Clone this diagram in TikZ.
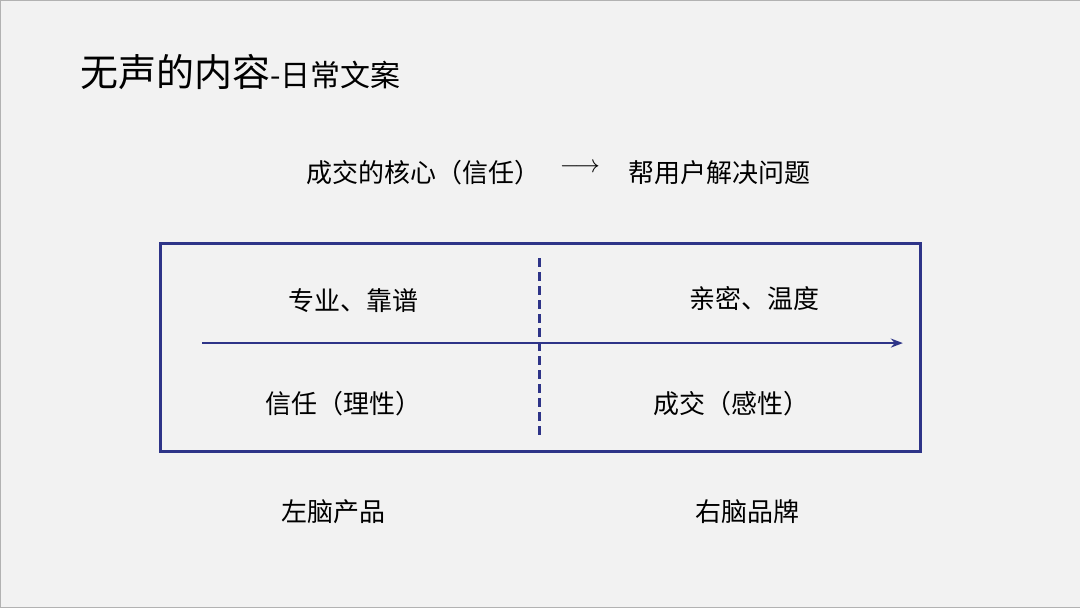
\documentclass[tikz,border=0pt]{standalone}
\usepackage{fontspec}
\setmainfont{Noto Sans CJK SC}
\usetikzlibrary{arrows.meta}
\definecolor{navy}{HTML}{2E3488}
\definecolor{bg}{HTML}{F2F2F2}
\begin{document}
\begin{tikzpicture}[
        x=1pt, y=-1pt,
        lbl/.style = {font=\fontsize{26}{28}\selectfont, inner sep=0pt},
        frame/.style = {draw=navy, line width=3pt},
        axis/.style = {draw=navy, line width=2pt, -{Stealth[length=12pt,width=9pt]}}
    ]
    \useasboundingbox[fill=bg, draw=gray!60] (0,0) rectangle (1080,607);
    % title
    \node (title) [anchor=base west, inner sep=0pt] at (80,86)
        {\fontsize{38}{40}\selectfont 无声的内容\fontsize{30}{32}\selectfont -日常文案};
    \node (core) [lbl] at (423,172) {成交的核心（信任）};
    \node (arr) [lbl] at (580,168) {\fontsize{30}{32}\selectfont$\longrightarrow$};
    \node (help) [lbl] at (720,172) {帮用户解决问题};
    % box
    \draw[frame] (160,243) rectangle (921,451);
    \coordinate (dtop) at (539,258);
    \coordinate (dbot) at (539,438);
    \draw[navy, line width=3pt, dash pattern=on 9pt off 5pt] (dtop) -- (dbot);
    \coordinate (astart) at (202,343);
    \coordinate (aend) at (903,343);
    \draw[axis] (astart) -- (aend);
    \node (pro) [lbl] at (353,301) {专业、靠谱};
    \node (warm) [lbl] at (755,298) {亲密、温度};
    \node (trust) [lbl] at (343,404) {信任（理性）};
    \node (deal) [lbl] at (732,404) {成交（感性）};
    \node (left) [lbl] at (333,512) {左脑产品};
    \node (right) [lbl] at (748,512) {右脑品牌};
\end{tikzpicture}
\end{document}
